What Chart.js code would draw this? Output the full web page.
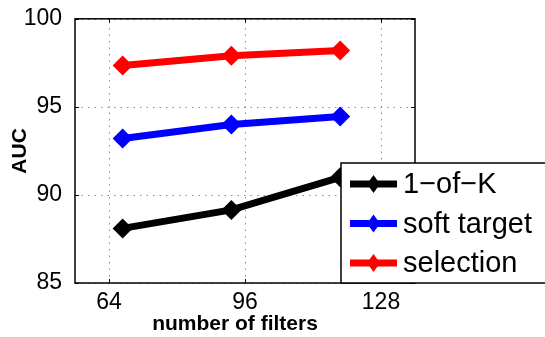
<!DOCTYPE html>
<html>
<head>
<meta charset="UTF-8">
<script src="https://cdn.jsdelivr.net/npm/chart.js"></script>
<style>
  body { margin: 0; background: #fff; }
  #wrap { width: 545px; height: 337px; }
</style>
</head>
<body>
<div id="wrap"><canvas id="chart" width="545" height="337"></canvas></div>
<script>
  // values
  const filterCounts = [67.2, 92.8, 118.4];
  const xTickValues = [64, 96, 128];
  const oneOfK = [88.1, 89.15, 91.0];
  const softTarget = [93.2, 94.0, 94.45];
  const selection = [97.35, 97.9, 98.2];
  const seriesNames = ['1\u2212of\u2212K', 'soft target', 'selection'];
  const seriesColors = ['#000000', '#0000ff', '#ff0000'];
  const xTitle = 'number of filters';

  const FONT = '"Liberation Sans", Arial, sans-serif';
  const pts = ys => ys.map((y, i) => ({ x: filterCounts[i], y: y }));

  // dotted grid, drawn from the scales' own tick positions
  const gridPlugin = {
    id: 'dotgrid',
    beforeDatasetsDraw(chart) {
      const ctx = chart.ctx, a = chart.chartArea;
      const xs = chart.scales.x, ys = chart.scales.y;
      ctx.save();
      ctx.strokeStyle = '#8c8c8c';
      ctx.lineWidth = 1;
      ctx.setLineDash([1.5, 5]);
      xs.ticks.forEach(t => {
        const px = Math.round(xs.getPixelForValue(t.value)) + 0.5;
        ctx.beginPath(); ctx.moveTo(px, a.bottom); ctx.lineTo(px, a.top); ctx.stroke();
      });
      ys.ticks.forEach(t => {
        const py = Math.round(ys.getPixelForValue(t.value)) + 0.5;
        ctx.beginPath(); ctx.moveTo(a.left, py); ctx.lineTo(a.right, py); ctx.stroke();
      });
      ctx.restore();
    }
  };

  // plot frame + legend box drawn over the lines, like the original figure
  const framePlugin = {
    id: 'frame',
    afterDatasetsDraw(chart) {
      const ctx = chart.ctx, a = chart.chartArea;
      const xs = chart.scales.x, ys = chart.scales.y;
      ctx.save();
      ctx.strokeStyle = '#000';
      ctx.lineWidth = 1.5;
      ctx.strokeRect(a.left, a.top, a.right - a.left, a.bottom - a.top);
      // small inward tick marks
      ctx.lineWidth = 1;
      xs.ticks.forEach(t => {
        const px = Math.round(xs.getPixelForValue(t.value)) + 0.5;
        ctx.beginPath(); ctx.moveTo(px, a.bottom); ctx.lineTo(px, a.bottom - 4); ctx.stroke();
        ctx.beginPath(); ctx.moveTo(px, a.top); ctx.lineTo(px, a.top + 4); ctx.stroke();
      });
      ys.ticks.forEach(t => {
        const py = Math.round(ys.getPixelForValue(t.value)) + 0.5;
        ctx.beginPath(); ctx.moveTo(a.left, py); ctx.lineTo(a.left + 4, py); ctx.stroke();
        ctx.beginPath(); ctx.moveTo(a.right, py); ctx.lineTo(a.right - 4, py); ctx.stroke();
      });

      // x axis title (sits a bit left of the axes centre in the original)
      ctx.fillStyle = '#000';
      ctx.font = 'bold 21px ' + FONT;
      ctx.textAlign = 'center';
      ctx.textBaseline = 'middle';
      ctx.fillText(xTitle, 235, 324);

      // legend
      const bx = 341, by = 163, bw = 220, bh = a.bottom - by;
      ctx.fillStyle = '#fff';
      ctx.fillRect(bx, by, bw, bh);
      ctx.lineWidth = 1.5;
      ctx.strokeRect(bx, by, bw, bh);
      ctx.font = '29px ' + FONT;
      ctx.textAlign = 'left';
      ctx.textBaseline = 'middle';
      chart.data.datasets.forEach((ds, i) => {
        const y = 184 + i * 39.5;
        ctx.strokeStyle = ds.borderColor;
        ctx.fillStyle = ds.borderColor;
        ctx.lineWidth = 7;
        ctx.beginPath();
        ctx.moveTo(350, y);
        ctx.lineTo(397, y);
        ctx.stroke();
        ctx.beginPath();
        ctx.moveTo(373.5, y - 9);
        ctx.lineTo(380, y);
        ctx.lineTo(373.5, y + 9);
        ctx.lineTo(367, y);
        ctx.closePath();
        ctx.fill();
        ctx.fillStyle = '#000';
        ctx.fillText(ds.label, 403, y + 1);
      });
      ctx.restore();
    }
  };

  const makeSet = (i, ys) => ({
    label: seriesNames[i],
    data: pts(ys),
    borderColor: seriesColors[i],
    backgroundColor: seriesColors[i],
    borderWidth: 7,
    pointStyle: 'rectRot',
    pointRadius: 10,
    pointBorderWidth: 0,
    tension: 0
  });

  new Chart(document.getElementById('chart').getContext('2d'), {
    type: 'line',
    data: {
      datasets: [
        makeSet(0, oneOfK),
        makeSet(1, softTarget),
        makeSet(2, selection)
      ]
    },
    options: {
      responsive: false,
      animation: false,
      layout: { padding: { top: 16, right: 130, left: 0, bottom: 0 } },
      plugins: { legend: { display: false }, tooltip: { enabled: false } },
      scales: {
        x: {
          type: 'linear',
          min: 56,
          max: 136,
          afterBuildTicks: s => { s.ticks = xTickValues.map(v => ({ value: v })); },
          afterFit: s => { s.height = 54; },
          grid: { display: false },
          border: { display: false },
          ticks: {
            color: '#000',
            padding: 0,
            font: { family: FONT, size: 23, lineHeight: 1 }
          }
        },
        y: {
          min: 85,
          max: 100,
          ticks: {
            stepSize: 5,
            color: '#000',
            padding: 5,
            font: { family: FONT, size: 23 }
          },
          afterFit: s => { s.width = 75; },
          grid: { display: false },
          border: { display: false },
          title: {
            display: true,
            text: 'AUC',
            color: '#000',
            padding: { top: 8, bottom: 2 },
            font: { family: FONT, size: 21, weight: 'bold' }
          }
        }
      }
    },
    plugins: [gridPlugin, framePlugin]
  });
</script>
</body>
</html>
